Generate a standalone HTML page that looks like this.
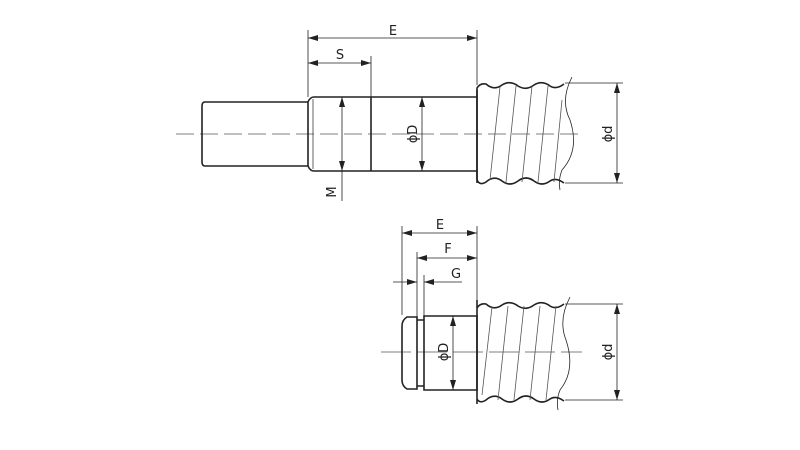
<!DOCTYPE html>
<html><head><meta charset="utf-8"><style>
html,body{margin:0;padding:0;background:#fff;}
svg{display:block;}
text{font-family:"DejaVu Sans","Liberation Sans",sans-serif;font-size:13px;fill:#222;}
</style></head><body>
<svg width="800" height="450" viewBox="0 0 800 450" xmlns="http://www.w3.org/2000/svg">
<defs>
<marker id="a" viewBox="0 0 10 6" refX="10" refY="3" markerWidth="10" markerHeight="6" orient="auto-start-reverse" markerUnits="userSpaceOnUse"><path d="M0,0 L10,3 L0,6 z" fill="#222"/></marker>
</defs>
<g stroke="#222" fill="none">
<!-- TOP FIGURE -->
<line x1="176" y1="134" x2="580" y2="134" stroke="#555" stroke-width="0.8" stroke-dasharray="18,6"/>
<path d="M205,102 L308,102 M205,166 L308,166 M205,102 Q202,102 202,106 L202,162 Q202,166 205,166" stroke-width="1.6"/>
<path d="M308,166 L308,102 Q310,97 314,97 L477,97 M308,166 Q310,171 314,171 L477,171" stroke-width="1.6"/>
<line x1="313" y1="99" x2="313" y2="169" stroke-width="0.7"/>
<line x1="371" y1="97" x2="371" y2="171" stroke-width="1.6"/>
<line x1="477" y1="90" x2="477" y2="180" stroke-width="1.6"/>
<path d="M477,183 L477,88 Q480,83 486,84 Q494,91 502,85 Q510,80 518,86 Q526,91 534,85 Q542,80 550,86 Q556,90 564,84" stroke-width="1.6"/>
<path d="M477,180 Q480,186 486,182 Q494,175 502,181 Q510,187 518,181 Q526,175 534,181 Q542,187 550,181 Q556,177 564,183" stroke-width="1.6"/>
<path d="M572,77 Q560,100 570,120 Q580,150 562,170 Q558,180 560,190" stroke-width="0.8"/>
<g stroke-width="0.8" stroke="#555"><line x1="490" y1="180" x2="500" y2="87"/><line x1="506" y1="182" x2="516" y2="86"/><line x1="522" y1="182" x2="532" y2="86"/><line x1="538" y1="182" x2="548" y2="86"/><line x1="554" y1="182" x2="562" y2="100"/></g>
<g stroke-width="0.8">
<line x1="308" y1="30" x2="308" y2="97"/><line x1="477" y1="30" x2="477" y2="85"/><line x1="371" y1="56" x2="371" y2="97"/>
<line x1="308" y1="38" x2="477" y2="38" marker-start="url(#a)" marker-end="url(#a)"/>
<line x1="308" y1="63" x2="371" y2="63" marker-start="url(#a)" marker-end="url(#a)"/>
<line x1="342" y1="97" x2="342" y2="171" marker-start="url(#a)" marker-end="url(#a)"/>
<line x1="342" y1="171" x2="342" y2="201"/>
<line x1="422" y1="97" x2="422" y2="171" marker-start="url(#a)" marker-end="url(#a)"/>
<line x1="565" y1="83" x2="623" y2="83"/><line x1="565" y1="183" x2="623" y2="183"/>
<line x1="617" y1="83" x2="617" y2="183" marker-start="url(#a)" marker-end="url(#a)"/>
</g>
<!-- BOTTOM FIGURE -->
<line x1="381" y1="352" x2="582" y2="352" stroke="#555" stroke-width="0.8" stroke-dasharray="30,6"/>
<path d="M417,317 L407,317 Q402,320 402,326 L402,380 Q402,386 407,389 L417,389 Z" stroke-width="1.6"/>
<path d="M417,320 L424,320 M417,386 L424,386" stroke-width="1.6"/>
<path d="M424,316 L477,316 L477,390 L424,390 Z" stroke-width="1.6"/>
<line x1="477" y1="300" x2="477" y2="404" stroke-width="1.6"/>
<path d="M477,308 Q480,303 486,304 Q494,311 502,305 Q510,300 518,306 Q526,311 534,305 Q542,300 550,306 Q556,310 564,304" stroke-width="1.6"/>
<path d="M477,399 Q480,404 486,400 Q494,393 502,399 Q510,405 518,399 Q526,393 534,399 Q542,405 550,399 Q556,395 564,401" stroke-width="1.6"/>
<path d="M570,297 Q558,320 566,340 Q576,370 560,390 Q556,400 558,410" stroke-width="0.8"/>
<g stroke-width="0.8" stroke="#555"><line x1="482" y1="395" x2="492" y2="307"/><line x1="498" y1="400" x2="508" y2="306"/><line x1="514" y1="400" x2="524" y2="306"/><line x1="530" y1="400" x2="540" y2="306"/><line x1="546" y1="400" x2="556" y2="306"/></g>
<g stroke-width="0.8">
<line x1="402" y1="226" x2="402" y2="315"/><line x1="477" y1="226" x2="477" y2="302"/>
<line x1="417" y1="252" x2="417" y2="317"/><line x1="424" y1="275" x2="424" y2="318"/>
<line x1="402" y1="233" x2="477" y2="233" marker-start="url(#a)" marker-end="url(#a)"/>
<line x1="417" y1="258" x2="477" y2="258" marker-start="url(#a)" marker-end="url(#a)"/>
<line x1="393" y1="282" x2="417" y2="282" marker-end="url(#a)"/>
<line x1="462" y1="282" x2="424" y2="282" marker-end="url(#a)"/>
<line x1="453" y1="316" x2="453" y2="390" marker-start="url(#a)" marker-end="url(#a)"/>
<line x1="565" y1="304" x2="623" y2="304"/><line x1="565" y1="400" x2="623" y2="400"/>
<line x1="617" y1="304" x2="617" y2="400" marker-start="url(#a)" marker-end="url(#a)"/>
</g>
</g>
<text x="393" y="35" text-anchor="middle">E</text>
<text x="340" y="59" text-anchor="middle">S</text>
<text transform="translate(336,192) rotate(-90)" text-anchor="middle">M</text>
<text transform="translate(417,134) rotate(-90)" text-anchor="middle">ϕD</text>
<text transform="translate(612,134) rotate(-90)" text-anchor="middle">ϕd</text>
<text x="440" y="229" text-anchor="middle">E</text>
<text x="448" y="253" text-anchor="middle">F</text>
<text x="456" y="278" text-anchor="middle">G</text>
<text transform="translate(448,352) rotate(-90)" text-anchor="middle">ϕD</text>
<text transform="translate(612,352) rotate(-90)" text-anchor="middle">ϕd</text>
</svg>
</body></html>
